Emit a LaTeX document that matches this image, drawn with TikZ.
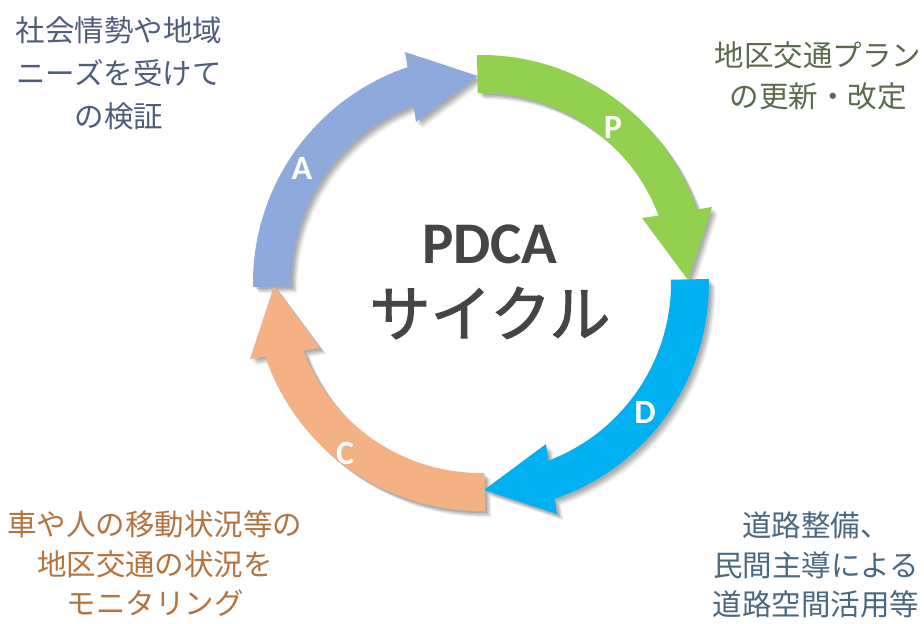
\documentclass[tikz,border=0pt]{standalone}
\usepackage{fontspec}
\setmainfont{Carlito}
\newfontfamily\cjk{Noto Sans CJK JP}
\newfontface\cjkmed{Noto Sans CJK JP}[FakeBold=1.8]
\definecolor{pgreen}{HTML}{92D050}
\definecolor{dblue}{HTML}{00B0F0}
\definecolor{corange}{HTML}{F4B183}
\definecolor{ablue}{HTML}{8EA9DB}
\definecolor{txtA}{HTML}{4E5D7C}
\definecolor{txtP}{HTML}{5A6B4C}
\definecolor{txtC}{HTML}{B5743F}
\definecolor{txtD}{HTML}{4A6880}
\definecolor{centertxt}{HTML}{454545}
\tikzset{
  letter/.style={font=\bfseries\fontsize{34}{34}\selectfont, text=white, inner sep=0pt},
  sidetext/.style={font=\cjk\fontsize{29.5}{#1}\selectfont, align=center, inner sep=0pt},
}
\begin{document}
\begin{tikzpicture}[x=1pt,y=1pt]
\useasboundingbox (0,0) rectangle (924,624);
\fill[white] (0,0) rectangle (924,624);
% shadows
\foreach \rot in {0,-90,-180,90} {
  \foreach \off/\op in {2/0.1,3.5/0.1,5/0.1,6.5/0.06} {
    \begin{scope}[shift={(481+\off,341-\off)}, rotate=\rot]
      \fill[black, opacity=\op] (91:228) arc[start angle=91,end angle=18.8,radius=228] -- (231,76) -- (207,3) -- (161,65) -- (20.8:190) arc[start angle=20.8,end angle=91,radius=190] -- cycle;
    \end{scope}
  }
}
% arrows
\foreach \rot/\col in {0/pgreen,-90/dblue,-180/corange,90/ablue} {
  \begin{scope}[shift={(481,341)}, rotate=\rot]
    \fill[\col] (91:228) arc[start angle=91,end angle=18.8,radius=228] -- (231,76) -- (207,3) -- (161,65) -- (20.8:190) arc[start angle=20.8,end angle=91,radius=190] -- cycle;
  \end{scope}
}
% letters
\node[letter] (lp) at (613,497) {P};
\node[letter] (ld) at (645,212) {D};
\node[letter] (lc) at (345,171) {C};
\node[letter] (la) at (302,456) {A};
% center text
\node[font=\bfseries\fontsize{59}{59}\selectfont, text=centertxt, inner sep=0pt] (pdca) at (490,380) {PDCA};
\node[font=\cjkmed\fontsize{61}{61}\selectfont, text=centertxt, inner sep=0pt] (cyc) at (490,311) {サイクル};
% side texts
\node[sidetext=43, text=txtA] (ta) at (119,551) {社会情勢や地域\\ニーズを受けて\\の検証};
\node[sidetext=41, text=txtP] (tp) at (818,548) {地区交通プラン\\の更新・改定};
\node[sidetext=39.5, text=txtC] (tc) at (155,60) {車や人の移動状況等の\\地区交通の状況を\\モニタリング};
\node[sidetext=39.5, text=txtD] (td) at (816,59) {道路整備、\\民間主導による\\道路空間活用等};
\end{tikzpicture}
\end{document}
